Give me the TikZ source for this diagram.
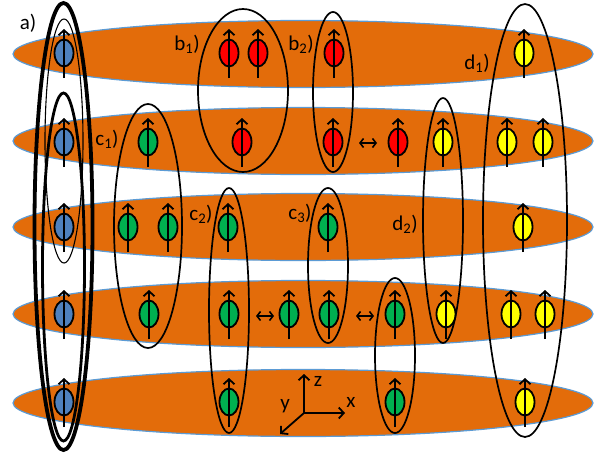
\documentclass[tikz,border=0pt]{standalone}
\usepackage{fontspec}
\setmainfont{Carlito}
\usetikzlibrary{shapes.geometric,arrows.meta,calc}
\definecolor{discfill}{HTML}{E36C0A}
\definecolor{discline}{HTML}{5B9BD5}
\definecolor{spinblue}{HTML}{4F81BD}
\definecolor{spinred}{HTML}{FF0000}
\definecolor{spingreen}{HTML}{00B050}
\definecolor{spinyellow}{HTML}{FFFF00}
\tikzset{
  disc/.style={ellipse, fill=discfill, draw=discline, line width=1.2pt, inner sep=0pt,
    minimum width=580pt, minimum height=67pt},
  spin/.style={ellipse, draw=black, line width=1.8pt, inner sep=0pt,
    minimum width=19pt, minimum height=27pt},
  sarrow/.style={line width=1.8pt, -{Straight Barb[length=5pt,width=11pt,line width=1.8pt]}},
  harrow/.style={line width=1.8pt, {Straight Barb[length=3.5pt,width=9pt,line width=1.6pt]}-{Straight Barb[length=3.5pt,width=9pt,line width=1.6pt]}},
  grp/.style={ellipse, draw=black, line width=1.7pt, inner sep=0pt},
  lbl/.style={font=\fontsize{21pt}{23pt}\selectfont, inner sep=0pt},
  axis/.style={line width=1.8pt, -{Straight Barb[length=5pt,width=11pt,line width=1.8pt]}}
}
\newcommand{\spinat}[4]{%
  \node[spin, fill=#4] (#1) at (#2,#3) {};
  \coordinate (#1b) at ($(#1)+(0,25)$);
  \coordinate (#1t) at ($(#1)+(0,-24)$);
}
\newcommand{\grpat}[6]{%
  \node[grp, minimum width=#4pt, minimum height=#5pt, line width=#6pt] (#1) at (#2,#3) {};
}
\begin{document}
\begin{tikzpicture}[x=1pt,y=-1pt]
\useasboundingbox (0,0) rectangle (600,455);
% discs
\node[disc] (L1) at (303,54) {};
\node[disc] (L2) at (303,141) {};
\node[disc] (L3) at (303,227) {};
\node[disc] (L4) at (303,314) {};
\node[disc] (L5) at (303,403) {};
% group ellipses
\grpat{gA}{63.5}{226.5}{58}{447}{3.8}
\grpat{gB}{64}{141}{38}{244}{1.1}
\grpat{gC}{63.5}{267}{42}{348}{2.8}
\grpat{gb1}{243}{90.5}{90}{163}{1.7}
\grpat{gb2}{333}{92}{40}{160}{1.7}
\grpat{gc1}{148}{226}{68}{244}{1.7}
\grpat{gc2}{229}{310.5}{40}{245}{1.7}
\grpat{gc3}{328}{265.5}{40}{155}{1.7}
\grpat{gc4}{395}{355.5}{40}{155}{1.7}
\grpat{gd1}{525}{220.5}{84}{433}{1.7}
\grpat{gd2}{443}{220.5}{40}{245}{1.7}
% spins layer 1
\spinat{a1}{64}{53}{spinblue}
\spinat{r1}{229}{53}{spinred}
\spinat{r2}{258}{53}{spinred}
\spinat{r3}{334}{53}{spinred}
\spinat{y1}{524}{53}{spinyellow}
% layer 2
\spinat{a2}{64}{142}{spinblue}
\spinat{g1}{148}{142}{spingreen}
\spinat{r4}{242}{142}{spinred}
\spinat{r5}{333}{142}{spinred}
\spinat{r6}{398}{142}{spinred}
\spinat{y2}{443}{142}{spinyellow}
\spinat{y3}{507}{142}{spinyellow}
\spinat{y4}{543}{142}{spinyellow}
% layer 3
\spinat{a3}{64}{227}{spinblue}
\spinat{g2}{128}{227}{spingreen}
\spinat{g3}{168}{227}{spingreen}
\spinat{g4}{228}{227}{spingreen}
\spinat{g5}{328}{227}{spingreen}
\spinat{y5}{523}{227}{spinyellow}
% layer 4
\spinat{a4}{64}{314}{spinblue}
\spinat{g6}{149}{314}{spingreen}
\spinat{g7}{229}{314}{spingreen}
\spinat{g8}{289}{314}{spingreen}
\spinat{g9}{329}{314}{spingreen}
\spinat{g10}{395}{314}{spingreen}
\spinat{y6}{446}{314}{spinyellow}
\spinat{y7}{511}{314}{spinyellow}
\spinat{y8}{545}{314}{spinyellow}
% layer 5
\spinat{a5}{64}{402}{spinblue}
\spinat{g11}{229}{402}{spingreen}
\spinat{g12}{395}{402}{spingreen}
\spinat{y9}{525}{402}{spinyellow}
% spin arrows
\foreach \s in {a1,r1,r2,r3,y1,a2,g1,r4,r5,r6,y2,y3,y4,a3,g2,g3,g4,g5,y5,a4,g6,g7,g8,g9,g10,y6,y7,y8,a5,g11,g12,y9}
  \draw[sarrow] (\s b) -- (\s t);
% exchange arrows
\coordinate (h1l) at (359,143); \coordinate (h1r) at (377,143);
\coordinate (h2l) at (256,316); \coordinate (h2r) at (274,316);
\coordinate (h3l) at (356,316); \coordinate (h3r) at (374,316);
\draw[harrow] (h1l) -- (h1r);
\draw[harrow] (h2l) -- (h2r);
\draw[harrow] (h3l) -- (h3r);
% axes
\coordinate (O) at (304,413);
\coordinate (Z) at (304,374);
\coordinate (X) at (345,413);
\coordinate (Y) at (280,434);
\draw[axis] (O) -- (Z);
\draw[axis] (O) -- (X);
\draw[axis] (O) -- (Y);
\node[lbl] (zl) at (318,381) {z};
\node[lbl] (xl) at (351,402) {x};
\node[lbl] (yl) at (285,406) {y};
% labels
\node[lbl] (la) at (28,23) {a)};
\node[lbl] (lb1) at (187,44) {b\textsubscript{1})};
\node[lbl] (lb2) at (301,44) {b\textsubscript{2})};
\node[lbl] (ld1) at (477,63) {d\textsubscript{1})};
\node[lbl] (lc1) at (107,139) {c\textsubscript{1})};
\node[lbl] (lc2) at (201,214) {c\textsubscript{2})};
\node[lbl] (lc3) at (300,213) {c\textsubscript{3})};
\node[lbl] (ld2) at (405,224) {d\textsubscript{2})};
\end{tikzpicture}
\end{document}
